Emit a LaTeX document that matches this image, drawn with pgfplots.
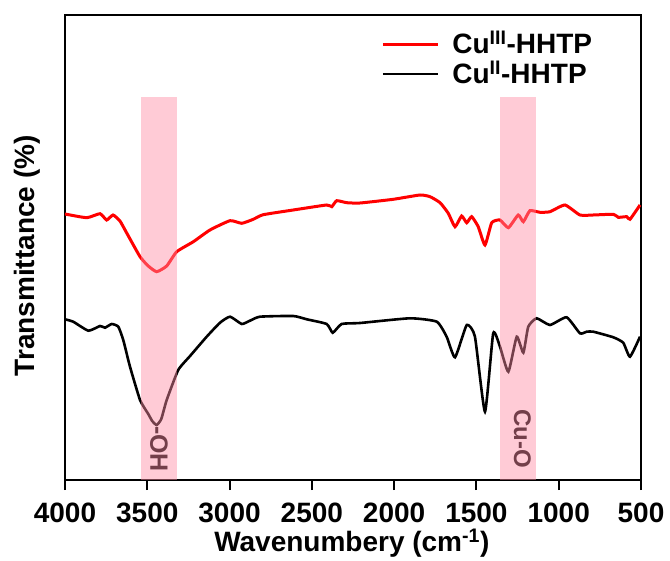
\documentclass[border=0pt]{standalone}
\usepackage{fontspec}
\setmainfont{Liberation Sans}
\usepackage{pgfplots}
\pgfplotsset{compat=1.18}
\definecolor{bandpink}{RGB}{255,140,165}
\begin{document}
\begin{tikzpicture}
\begin{axis}[
  name=ax,
  scale only axis, width=576pt, height=465pt,
  xmin=500, xmax=4000, x dir=reverse,
  ymin=0, ymax=465,
  ytick=\empty,
  xtick={500,1000,...,4000},
  xtick pos=bottom, tick align=outside,
  major tick length=10pt,
  tick style={line width=2pt, black},
  axis line style={line width=2pt},
  xticklabel style={font=\fontsize{28}{32}\selectfont\bfseries, /pgf/number format/1000 sep={}, yshift=-9pt},
  /pgf/number format/assume math mode=true,
  xlabel={\bfseries Wavenumbery (cm\textsuperscript{-1})},
  ylabel={\bfseries Transmittance (\%)},
  label style={font=\fontsize{28}{32}\selectfont\bfseries},
  xlabel style={at={(axis description cs:0.498,-0.135)}, anchor=center},
  ylabel style={at={(axis description cs:-0.066,0.482)}, anchor=center},
  clip mode=individual,
  legend style={draw=none, fill=none, at={(axis description cs:0.549,0.970)}, anchor=north west,
    inner sep=0pt, row sep=0pt,
    nodes={inner xsep=0pt, inner ysep=4pt, text height=20pt, text depth=2pt},
    font=\fontsize{28}{32}\selectfont\bfseries},
  legend cell align=left,
  legend image code/.code={\draw[#1] (0pt,0pt) -- (55pt,0pt); \path (68pt,0pt);},
]
\addplot[red, line width=3pt, smooth, tension=0.3] coordinates {
(4000,266) (3868,262.3) (3787,266.3) (3747,260) (3708,265) (3666,259) (3625,247)
(3544,223.3) (3494,214) (3443,208.3) (3382,214) (3321,228.3) (3220,238.3) (3119,250)
(2997,259.3) (2926,256.7) (2856,260.7) (2795,265.3) (2613,270) (2410,275) (2379,273.3)
(2349,279.3) (2288,277.3) (2207,277) (2005,280.7) (1843,285) (1782,283.3) (1721,277.3)
(1671,266.7) (1630,253.3) (1590,264) (1559,257.3) (1529,263.3) (1489,253.3) (1448,235)
(1407,257.3) (1357,260) (1306,252.3) (1246,265) (1215,258.3) (1175,269.3) (1114,267.7)
(1053,268.3) (962,275) (871,265) (790,265) (668,265.7) (638,262.7) (587,263.3) (567,260.7) (506,275)
};
\addlegendentry{Cu\textsuperscript{III}-HHTP}
\addplot[black, line width=2.6pt, smooth, tension=0.3] coordinates {
(4000,160.7) (3950,158.3) (3858,149.3) (3787,154) (3757,152.3) (3716,156) (3676,153.3)
(3646,140) (3605,113.3) (3544,80) (3494,66) (3470,59) (3443,55) (3415,61) (3382,80) (3312,110) (3240,124)
(3139,143.3) (3058,157.3) (2997,163.3) (2926,156) (2876,159.3) (2815,163.3) (2613,164)
(2531,160.7) (2410,156) (2373,147.3) (2319,156) (2207,157) (1904,161.7) (1741,158.3)
(1681,143.3) (1630,122.7) (1559,155) (1509,143.3) (1448,68.3) (1398,146.7) (1357,133.3)
(1306,108.3) (1255,143.3) (1215,127.3) (1185,153.3) (1134,161.7) (1053,155) (952,162.7)
(871,146.7) (830,148.3) (790,148.3) (668,142.7) (608,137.3) (567,123.3) (506,143.3)
};
\addlegendentry{Cu\textsuperscript{II}-HHTP}
\node[rotate=-90, font=\fontsize{25}{28}\selectfont\bfseries, black] at (axis cs:3429,31) {-OH};
\node[rotate=-90, font=\fontsize{24}{28}\selectfont\bfseries, black] at (axis cs:1220,41.5) {Cu-O};
\fill[bandpink, opacity=0.45] (axis cs:3537,0) rectangle (axis cs:3317,383);
\fill[bandpink, opacity=0.45] (axis cs:1355,0) rectangle (axis cs:1135,383);
\end{axis}
\path[use as bounding box] ([shift={(-65pt,15pt)}]ax.north west) rectangle ([shift={(29pt,-73pt)}]ax.south east);
\end{tikzpicture}
\end{document}
